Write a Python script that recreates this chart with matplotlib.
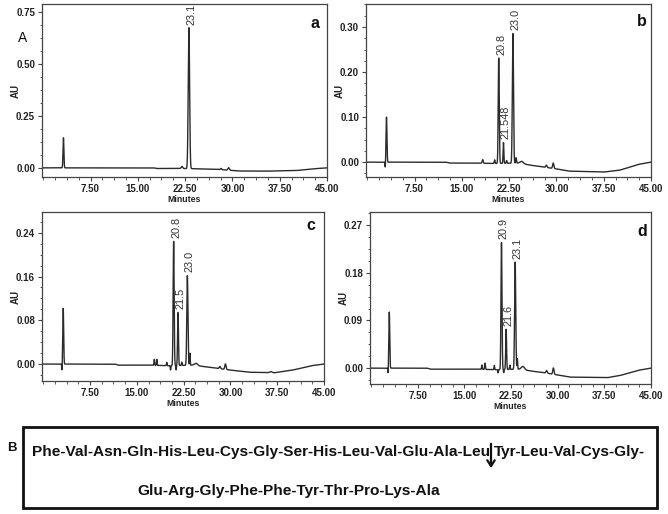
import numpy as np
import matplotlib
matplotlib.use("Agg")
import matplotlib.pyplot as plt
from matplotlib.ticker import MultipleLocator, AutoMinorLocator, FormatStrFormatter
from matplotlib.patches import Rectangle, FancyArrowPatch

W, H = 668, 514

# ---------------- data ----------------
# Panel a
a_peak_t = [3.2, 22.0, 23.1, 28.2, 29.4]
a_peak_h = [0.145, 0.010, 0.680, 0.006, 0.012]
a_peak_w = [0.07, 0.12, 0.11, 0.10, 0.12]
a_base_t = [0, 17.5, 18.0, 22.0, 24.0, 28.0, 31.0, 35.0, 40.0, 43.0, 45.0]
a_base_v = [0, 0.0, -0.003, -0.003, -0.004, -0.008, -0.015, -0.016, -0.013, -0.004, 0.0]
a_labels = [("23.1", 23.1, 0.680)]

# Panel b
b_peak_t = [2.85, 3.05, 18.3, 20.2, 20.85, 21.6, 22.1, 23.1, 23.6, 24.5, 28.4, 29.5]
b_peak_h = [-0.012, 0.100, 0.008, 0.008, 0.234, 0.046, 0.006, 0.288, 0.012, 0.005, 0.005, 0.012]
b_peak_w = [0.04, 0.07, 0.08, 0.06, 0.08, 0.06, 0.06, 0.09, 0.06, 0.25, 0.10, 0.10]
b_base_t = [0, 12.5, 13.0, 17.0, 20.0, 24.0, 26.0, 28.0, 30.0, 32.0, 37.5, 40.0, 43.0, 45.0]
b_base_v = [0, 0.0, -0.002, -0.002, -0.003, -0.002, -0.007, -0.011, -0.015, -0.020, -0.022, -0.018, -0.005, 0.0]
b_labels = [("20.8", 20.85, 0.234), ("21.548", 21.6, 0.046), ("23.0", 23.1, 0.288)]

# Panel c
c_peak_t = [3.0, 3.2, 17.8, 18.2, 19.8, 20.4, 20.9, 21.3, 21.6, 22.2, 23.1, 23.5, 24.5, 28.3, 29.2, 36.5]
c_peak_h = [-0.012, 0.102, 0.011, 0.011, 0.006, -0.008, 0.227, -0.008, 0.097, 0.006, 0.164, 0.022, 0.004, 0.004, 0.010, 0.002]
c_peak_w = [0.04, 0.07, 0.05, 0.05, 0.05, 0.04, 0.08, 0.04, 0.07, 0.05, 0.09, 0.05, 0.25, 0.10, 0.10, 0.2]
c_base_t = [0, 11.5, 12.0, 17.0, 20.0, 24.0, 26.0, 28.0, 30.0, 33.0, 37.0, 40.0, 43.0, 45.0]
c_base_v = [0, 0.0, -0.002, -0.002, -0.003, -0.002, -0.005, -0.008, -0.011, -0.015, -0.016, -0.011, -0.003, 0.0]
c_labels = [("20.8", 20.9, 0.227), ("21.5", 21.6, 0.097), ("23.0", 23.1, 0.164)]

# Panel d
d_peak_t = [2.7, 2.9, 17.8, 18.3, 19.8, 20.4, 20.95, 21.3, 21.7, 22.3, 23.15, 23.5, 24.4, 28.2, 29.3]
d_peak_h = [-0.010, 0.106, 0.008, 0.012, 0.008, -0.006, 0.240, -0.006, 0.076, 0.008, 0.2025, 0.020, 0.006, 0.005, 0.012]
d_peak_w = [0.04, 0.07, 0.05, 0.06, 0.05, 0.04, 0.08, 0.04, 0.07, 0.05, 0.09, 0.05, 0.25, 0.10, 0.10]
d_base_t = [0, 9.0, 9.5, 17.0, 20.0, 24.0, 26.0, 28.0, 30.0, 32.0, 38.0, 40.0, 43.0, 45.0]
d_base_v = [0, 0.0, -0.002, -0.002, -0.003, -0.002, -0.006, -0.009, -0.013, -0.017, -0.018, -0.014, -0.004, 0.0]
d_labels = [("20.9", 20.95, 0.240), ("21.6", 21.7, 0.076), ("23.1", 23.15, 0.2025)]

x_ticks = [7.5, 15.0, 22.5, 30.0, 37.5, 45.0]
a_yticks = [0.00, 0.25, 0.50, 0.75]
b_yticks = [0.00, 0.10, 0.20, 0.30]
c_yticks = [0.00, 0.08, 0.16, 0.24]
d_yticks = [0.00, 0.09, 0.18, 0.27]

seq_line1a = "Phe-Val-Asn-Gln-His-Leu-Cys-Gly-Ser-His-Leu-Val-Glu-Ala-Leu"
seq_line1b = "Tyr-Leu-Val-Cys-Gly-"
seq_line2 = "Glu-Arg-Gly-Phe-Phe-Tyr-Thr-Pro-Lys-Ala"

# ---------------- drawing ----------------
fig = plt.figure(figsize=(W / 100, H / 100), dpi=100)
fig.patch.set_facecolor("white")

def px_rect(l, r, t, b):
    return [l / W, 1 - b / H, (r - l) / W, (b - t) / H]

panels = [
    ("a", px_rect(42, 327, 4, 177), a_peak_t, a_peak_h, a_peak_w, a_base_t, a_base_v, a_labels, a_yticks, (-0.044, 0.79), (315, 23)),
    ("b", px_rect(366, 651, 4, 177), b_peak_t, b_peak_h, b_peak_w, b_base_t, b_base_v, b_labels, b_yticks, (-0.033, 0.351), (642, 22)),
    ("c", px_rect(42, 324, 212, 381), c_peak_t, c_peak_h, c_peak_w, c_base_t, c_base_v, c_labels, c_yticks, (-0.031, 0.278), (311, 225)),
    ("d", px_rect(370, 651, 212, 384), d_peak_t, d_peak_h, d_peak_w, d_base_t, d_base_v, d_labels, d_yticks, (-0.030, 0.295), (642, 232)),
]

t = np.linspace(0, 45, 6000)
dark = "#2b2b2b"

for letter, rect, pt, ph, pw, bt, bv, labels, yt, ylim, lpos in panels:
    ax = fig.add_axes(rect)
    sig = np.interp(t, bt, bv)
    for tt, hh, ww in zip(pt, ph, pw):
        sig = sig + hh * np.exp(-0.5 * ((t - tt) / ww) ** 2)
    ax.plot(t, sig, color=dark, lw=1.0)
    ax.set_xlim(-0.2, 45)
    ax.set_ylim(*ylim)
    ax.set_xticks(x_ticks)
    ax.xaxis.set_minor_locator(MultipleLocator(1.875))
    ax.set_yticks(yt)
    ax.yaxis.set_minor_locator(AutoMinorLocator(4))
    ax.xaxis.set_major_formatter(FormatStrFormatter("%.2f"))
    ax.yaxis.set_major_formatter(FormatStrFormatter("%.2f"))
    ax.tick_params(which="major", length=3, width=0.8, color="#444444", pad=2)
    ax.tick_params(which="minor", length=1.8, width=0.6, color="#444444")
    for lab in ax.get_xticklabels() + ax.get_yticklabels():
        lab.set_fontfamily("Liberation Sans")
        lab.set_fontweight("bold")
        lab.set_fontsize(7)
        lab.set_color("#222222")
    for sp in ax.spines.values():
        sp.set_color("#444444")
        sp.set_linewidth(0.9)
    ax.set_xlabel("Minutes", fontfamily="Liberation Sans", fontweight="bold", fontsize=6.3, labelpad=1, color="#222222")
    ax.set_ylabel("AU", fontfamily="Liberation Sans", fontweight="bold", fontsize=7, color="#222222")
    ax.yaxis.set_label_coords(-0.075, 0.5)
    for txt, tx, ty in labels:
        ax.annotate(txt, (tx, ty), xytext=(1.8, 1.5), textcoords="offset points",
                    rotation=90, ha="center", va="bottom", fontsize=7.8,
                    fontfamily="Liberation Sans", color="#333333")
    fig.text(lpos[0] / W, 1 - lpos[1] / H, letter, ha="center", va="center",
             fontsize=11.5, fontweight="bold", fontfamily="Liberation Sans", color="#111111")

fig.text(23 / W, 1 - 38 / H, "A", ha="center", va="center", fontsize=10,
         fontfamily="Liberation Sans", color="#111111")
fig.text(12 / W, 1 - 448 / H, "B", ha="center", va="center", fontsize=9.5,
         fontweight="bold", fontfamily="Liberation Sans", color="#111111")

# sequence box
fig.patches.append(Rectangle((23 / W, 1 - 508 / H), (657 - 23) / W, (508 - 427) / H,
                             transform=fig.transFigure, fill=False, edgecolor="#111111", lw=2.0))

fs = 10
seq_kw = dict(fontweight="bold", fontfamily="Liberation Sans", color="#111111", va="center", ha="left")
t1 = fig.text(32 / W, 1 - 452 / H, seq_line1a, fontsize=fs, **seq_kw)
fig.canvas.draw()
wpx = t1.get_window_extent().width
fs = fs * (455 / wpx)
t1.set_fontsize(fs)
fig.text(494 / W, 1 - 452 / H, seq_line1b, fontsize=fs, **seq_kw)
fig.text(137 / W, 1 - 491 / H, seq_line2, fontsize=fs, **seq_kw)

fig.add_artist(FancyArrowPatch((491 / W, 1 - 441 / H), (491 / W, 1 - 471 / H),
               transform=fig.transFigure, arrowstyle="->,head_length=3.5,head_width=2.2",
               color="#111111", lw=1.6, mutation_scale=1.2))

fig.savefig("out.png", dpi=100, facecolor="white")
